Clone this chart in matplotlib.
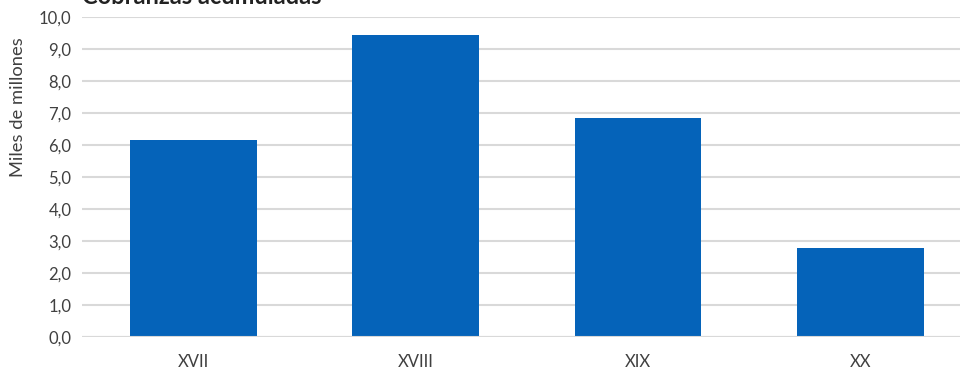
import numpy as np
import matplotlib.pyplot as plt

plt.rcParams['font.family'] = ['Lato', 'DejaVu Sans']

# Cobranzas acumuladas por legislatura, en miles de millones
legislaturas = ['XVII', 'XVIII', 'XIX', 'XX']
cobranzas = [6.16, 9.45, 6.86, 2.78]
y_ticks = np.arange(0, 10.5, 1.0)

text_color = '#404040'
bar_color = '#0563b9'
grid_color = '#d9d9d9'

fig = plt.figure(figsize=(9.6, 3.73), dpi=100)
ax = fig.add_axes([0.0859, 0.0952, 0.926, 0.8592])

x = np.arange(len(legislaturas))
ax.bar(x, cobranzas, width=0.57, color=bar_color, zorder=3)

ax.set_xlim(-0.5, len(legislaturas) - 0.5)
ax.set_ylim(0, 10)
ax.set_yticks(y_ticks)
ax.set_yticklabels([f'{v:.1f}'.replace('.', ',') for v in y_ticks])
ax.set_xticks(x)
ax.set_xticklabels(legislaturas)

ax.grid(axis='y', color=grid_color, linewidth=1.5, zorder=0)
ax.axhline(0, color=grid_color, linewidth=1.5, zorder=4)
for s in ax.spines.values():
    s.set_visible(False)
ax.tick_params(axis='both', length=0, labelsize=12, colors=text_color)
ax.tick_params(axis='x', pad=12)
ax.tick_params(axis='y', pad=8)

ax.set_ylabel('Miles de millones', fontsize=13.2, color=text_color)
ax.yaxis.set_label_coords(-0.064, 0.72)

# título en el borde superior
fig.text(82 / 960, 1 - 4 / 373, 'Cobranzas acumuladas', fontsize=17,
         fontweight='bold', color='#222222', va='baseline', ha='left')

fig.savefig('out.png', dpi=100)
